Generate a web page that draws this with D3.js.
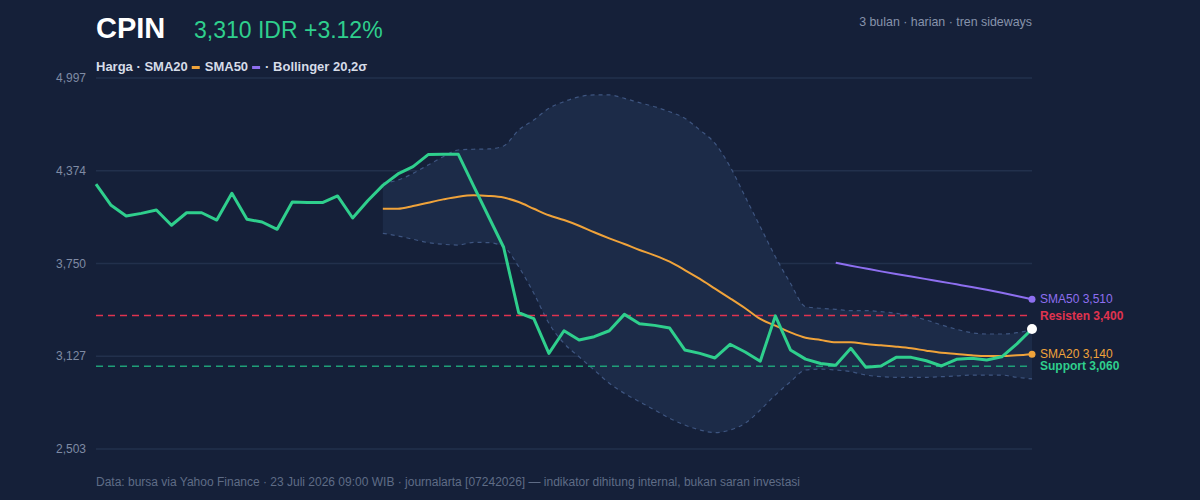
<!DOCTYPE html>
<html>
<head>
<meta charset="utf-8">
<script src="https://cdn.jsdelivr.net/npm/d3@7"></script>
<style>
  html, body { margin: 0; padding: 0; background: #152039; }
  svg { display: block; font-family: "Liberation Sans", Arial, Helvetica, sans-serif; }
</style>
</head>
<body>
<div id="chart"></div>
<script>
// daily closes, 63 trading days (index 0..62)
const price = [4284, 4141, 4069, 4087, 4110, 4007, 4091, 4091, 4042, 4222,
    4047, 4029, 3980, 4163, 4160, 4160, 4204, 4056, 4172, 4275,
    4352, 4401, 4482, 4484, 4484, 4273, 4066, 3859, 3419, 3379,
    3146, 3298, 3236, 3258, 3298, 3408, 3345, 3334, 3316, 3169,
    3146, 3115, 3207, 3155, 3093, 3398, 3169, 3107, 3078, 3066,
    3180, 3052, 3061, 3119, 3119, 3096, 3061, 3106, 3113, 3101,
    3123, 3210, 3310];

// SMA20 and Bollinger bands start at index 19
const sma20Start = 19;
const sma20 = [4118, 4118, 4136, 4159, 4181, 4199, 4208, 4204, 4193, 4163,
    4118, 4074, 4042, 4004, 3960, 3919, 3881, 3841, 3805, 3762,
    3706, 3646, 3581, 3516, 3449, 3377, 3332, 3287, 3251, 3236,
    3220, 3220, 3209, 3200, 3191, 3180, 3164, 3150, 3142, 3133,
    3128, 3128, 3133, 3140];
const bbUpper = [4289, 4311, 4356, 4412, 4468, 4513, 4518, 4520, 4540, 4647,
    4715, 4793, 4838, 4871, 4883, 4883, 4860, 4831, 4804, 4770,
    4726, 4647, 4558, 4401, 4199, 3997, 3796, 3617, 3460, 3449,
    3442, 3433, 3433, 3426, 3415, 3397, 3370, 3337, 3308, 3285,
    3276, 3276, 3285, 3303];
const bbLower = [3953, 3935, 3913, 3890, 3879, 3874, 3892, 3890, 3863, 3728,
    3550, 3348, 3213, 3123, 3034, 2945, 2877, 2821, 2765, 2709,
    2664, 2631, 2613, 2631, 2676, 2765, 2866, 2955, 3034, 3040,
    3034, 3023, 3000, 2989, 2985, 2985, 2985, 2989, 2994, 3000,
    3000, 3000, 2985, 2974];

// SMA50 starts at index 49
const sma50Start = 49;
const sma50 = [3755, 3735, 3716, 3697, 3679, 3662, 3645, 3628, 3610, 3592,
    3573, 3553, 3532, 3510];

const resistance = 3400;
const support = 3060;
const yTicks = [2503, 3127, 3750, 4374, 4997];
const yDomain = [2503, 4997];

const ticker = "CPIN";
const quote = "3,310 IDR +3.12%";
const subtitle = "3 bulan · harian · tren sideways";
const footer = "Data: bursa via Yahoo Finance · 23 Juli 2026 09:00 WIB · journalarta [07242026] — indikator dihitung internal, bukan saran investasi";

const C = {
    bg: "#152039",
    grid: "#22304c",
    axisText: "#7f8ba4",
    price: "#2fcf8d",
    sma20: "#f0a33a",
    sma50: "#8e6ff0",
    res: "#e0334f",
    sup: "#1f9f78",
    bandFill: "#1c2b48",
    bandStroke: "#3e5580",
    legend: "#d6dce8",
    muted: "#8793ab"
};

const width = 1200, height = 500;
const margin = { top: 78, right: 168, bottom: 51, left: 96 };

const svg = d3.select("#chart")
    .append("svg")
    .attr("width", width)
    .attr("height", height);

svg.append("rect")
    .attr("width", width)
    .attr("height", height)
    .attr("fill", C.bg);

const x = d3.scaleLinear()
    .domain([0, price.length - 1])
    .range([margin.left, width - margin.right]);

const y = d3.scaleLinear()
    .domain(yDomain)
    .range([height - margin.bottom, margin.top]);

/* grid + y labels */
const grid = svg.append("g").attr("class", "grid");
grid.selectAll("line")
    .data(yTicks)
    .enter().append("line")
    .attr("x1", x.range()[0])
    .attr("x2", x.range()[1])
    .attr("y1", d => y(d))
    .attr("y2", d => y(d))
    .attr("stroke", C.grid)
    .attr("stroke-width", 1.5);

grid.selectAll("text")
    .data(yTicks)
    .enter().append("text")
    .attr("x", margin.left - 10)
    .attr("y", d => y(d))
    .attr("dy", "0.35em")
    .attr("text-anchor", "end")
    .attr("font-size", 12)
    .attr("fill", C.axisText)
    .text(d => d3.format(",")(d));

/* bollinger band */
const band = bbUpper.map((u, i) => ({ i: i + sma20Start, u: u, l: bbLower[i] }));

svg.append("path")
    .datum(band)
    .attr("fill", C.bandFill)
    .attr("d", d3.area()
        .curve(d3.curveMonotoneX)
        .x(d => x(d.i))
        .y0(d => y(d.l))
        .y1(d => y(d.u)));

["u", "l"].forEach(k => {
    svg.append("path")
        .datum(band)
        .attr("fill", "none")
        .attr("stroke", C.bandStroke)
        .attr("stroke-width", 1.2)
        .attr("stroke-dasharray", "4,4")
        .attr("d", d3.line()
            .curve(d3.curveMonotoneX)
            .x(d => x(d.i))
            .y(d => y(d[k])));
});

/* support / resistance */
[[resistance, C.res], [support, C.sup]].forEach(([v, col]) => {
    svg.append("line")
        .attr("x1", x.range()[0])
        .attr("x2", x.range()[1])
        .attr("y1", y(v))
        .attr("y2", y(v))
        .attr("stroke", col)
        .attr("stroke-width", 1.5)
        .attr("stroke-dasharray", "7,5");
});

/* moving averages */
const maLine = d3.line()
    .curve(d3.curveMonotoneX)
    .x(d => x(d.i))
    .y(d => y(d.v));

const sma20Data = sma20.map((v, i) => ({ i: i + sma20Start, v: v }));
const sma50Data = sma50.map((v, i) => ({ i: i + sma50Start, v: v }));

svg.append("path")
    .datum(sma20Data)
    .attr("fill", "none")
    .attr("stroke", C.sma20)
    .attr("stroke-width", 2)
    .attr("d", maLine);

svg.append("path")
    .datum(sma50Data)
    .attr("fill", "none")
    .attr("stroke", C.sma50)
    .attr("stroke-width", 2)
    .attr("d", maLine);

/* price */
svg.append("path")
    .datum(price)
    .attr("fill", "none")
    .attr("stroke", C.price)
    .attr("stroke-width", 3)
    .attr("stroke-linejoin", "round")
    .attr("d", d3.line()
        .x((d, i) => x(i))
        .y(d => y(d)));

/* end markers */
const last = price.length - 1;
svg.append("circle")
    .attr("cx", x(last)).attr("cy", y(sma50[sma50.length - 1]))
    .attr("r", 3.5).attr("fill", C.sma50);
svg.append("circle")
    .attr("cx", x(last)).attr("cy", y(sma20[sma20.length - 1]))
    .attr("r", 3.5).attr("fill", C.sma20);
svg.append("circle")
    .attr("cx", x(last)).attr("cy", y(price[last]))
    .attr("r", 5).attr("fill", "#ffffff");

/* right-hand labels */
const fmt = d3.format(",");
const endLabels = [
    { v: sma50[sma50.length - 1], t: "SMA50 " + fmt(sma50[sma50.length - 1]), c: C.sma50, w: "normal" },
    { v: resistance, t: "Resisten " + fmt(resistance), c: C.res, w: "bold" },
    { v: sma20[sma20.length - 1], t: "SMA20 " + fmt(sma20[sma20.length - 1]), c: C.sma20, w: "normal" },
    { v: support, t: "Support " + fmt(support), c: C.price, w: "bold" }
];
svg.append("g")
    .selectAll("text")
    .data(endLabels)
    .enter().append("text")
    .attr("x", x(last) + 8)
    .attr("y", d => y(d.v))
    .attr("dy", "0.35em")
    .attr("font-size", 12)
    .attr("font-weight", d => d.w)
    .attr("fill", d => d.c)
    .text(d => d.t);

/* header */
svg.append("text")
    .attr("x", 96).attr("y", 38)
    .attr("font-size", 29)
    .attr("font-weight", "bold")
    .attr("fill", "#ffffff")
    .text(ticker);

svg.append("text")
    .attr("x", 194).attr("y", 38)
    .attr("font-size", 23)
    .attr("fill", C.price)
    .text(quote);

svg.append("text")
    .attr("x", 1032).attr("y", 26)
    .attr("text-anchor", "end")
    .attr("font-size", 12.4)
    .attr("fill", C.muted)
    .text(subtitle);

/* legend: text pieces with colored swatches in between */
const legend = svg.append("g").attr("font-size", 13).attr("font-weight", "bold").attr("fill", C.legend);
let lx = 96;
const legendItems = [
    { t: "Harga · SMA20", sw: C.sma20 },
    { t: "SMA50", sw: C.sma50 },
    { t: "· Bollinger 20,2σ", sw: null }
];
legendItems.forEach(item => {
    const txt = legend.append("text").attr("x", lx).attr("y", 71).text(item.t);
    lx += txt.node().getComputedTextLength() + 4;
    if (item.sw) {
        legend.append("rect")
            .attr("x", lx).attr("y", 66)
            .attr("width", 8).attr("height", 3)
            .attr("fill", item.sw);
        lx += 8 + 5;
    }
});

svg.append("text")
    .attr("x", 96).attr("y", 486)
    .attr("font-size", 12)
    .attr("fill", "#5f6c86")
    .text(footer);
</script>
</body>
</html>
